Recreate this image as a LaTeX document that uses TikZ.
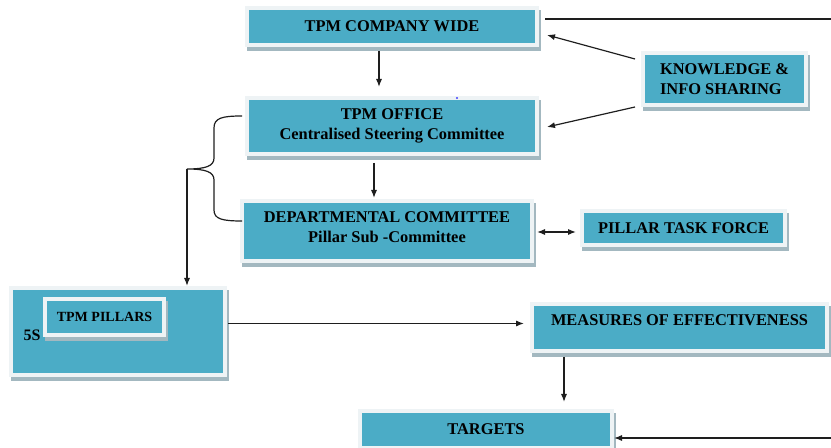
\documentclass[tikz,border=0pt]{standalone}
\usepackage{fontspec}
\setmainfont{Liberation Serif}
\usetikzlibrary{arrows.meta,calc,shadows}
\definecolor{boxfill}{HTML}{4BACC6}
\definecolor{boxrim}{HTML}{EEF3F5}
\definecolor{boxshade}{HTML}{A3B8C0}
\definecolor{wire}{HTML}{1E1E1E}
\begin{document}
\begin{tikzpicture}[x=0.75pt,y=-0.75pt,
  panel/.style 2 args={draw=boxrim, line width=3pt, fill=boxfill,
    minimum width=#1*0.75pt, minimum height=#2*0.75pt, inner sep=0pt,
    font=\bfseries\fontsize{12.3}{14.8}\selectfont, align=center, text=black,
    drop shadow={shadow xshift=1.2pt, shadow yshift=-2.8pt, fill=boxshade,
      draw=boxshade, line width=3pt, opacity=1}},
  line/.style={draw=wire, line width=0.9pt},
  arr/.style={line, -{Latex[length=6pt,width=4.6pt]}},
  arrboth/.style={line, {Latex[length=6pt,width=4.6pt]}-{Latex[length=6pt,width=4.6pt]}}]
\useasboundingbox (0,0) rectangle (831,448);

% boxes
\node[panel={290}{37}] (cw) at (392,26.5) {TPM COMPANY WIDE};
\node[panel={290}{56}] (office) at (392,126) {TPM OFFICE\\Centralised Steering Committee};
\node[panel={290}{60}, text depth=6pt] (dept) at (387,231) {DEPARTMENTAL COMMITTEE\\Pillar Sub -Committee};
\node[panel={163}{52}, align=left] (know) at (724.5,79) {KNOWLEDGE \&\\INFO SHARING};
\node[panel={203}{34}] (ptf) at (683.5,228) {PILLAR TASK FORCE};
\node[panel={214}{87}] (big) at (118,331.5) {};
\node[panel={119}{36}, font=\bfseries\fontsize{10.5}{12.5}\selectfont] (pillars) at (104.5,317) {TPM PILLARS};
\node[font=\bfseries\fontsize{12}{14}\selectfont, inner sep=0pt] (five) at (32,335) {5S};
\node[panel={295}{47}, text depth=11.2pt] (meas) at (679.5,327.5) {MEASURES OF EFFECTIVENESS};
\node[panel={252}{37}] (targ) at (486,429.5) {TARGETS};

% small mark above the office box
\fill[blue!75!white] (457,98) circle[radius=0.8pt];

% connectors
\draw[arr] ($(cw.south)+(-13,4)$) -- ($(office.north)+(-13,-9)$);
\draw[arr] ($(office.south)+(-18,7)$) -- ($(office.south |- dept.north)+(-18,-1)$);
\draw[arr] ($(know.west)+(-6,-20)$) -- ($(cw.east)+(8,8.5)$);
\draw[arr] ($(know.west)+(-6,28)$) -- ($(office.east)+(8,1)$);
\coordinate (topend) at (831,19);
\draw[line] ($(topend -| cw.east)+(6,0)$) -- (topend);
\draw[arrboth] ($(dept.east)+(3,1)$) -- ($(dept.east -| ptf.west)+(-4,1)$);

% brace grouping the office and the departmental committee
\coordinate (bt) at (187,169);
\draw[line] ($(office.west)+(-3,-10)$) .. controls (222,116) and (214,118) .. (214,128)
  -- (214,158) .. controls (214,166) and (206,169) .. (bt)
  .. controls (206,169) and (214,172) .. (214,180)
  -- (214,210) .. controls (214,219) and (222,221) .. ($(dept.west)+(2,-10)$);
\draw[arr] (bt) -- (bt |- big.north);

\draw[arr] ($(big.east)+(1,-8)$) -- ($(big.east -| meas.west)+(-6,-8)$);
\draw[arr] ($(meas.south)+(-115.5,4)$) -- ($(meas.south |- targ.north)+(-115.5,-7)$);
\coordinate (botend) at (831,438);
\draw[arr] (botend) -- (botend -| targ.east);
\end{tikzpicture}
\end{document}
